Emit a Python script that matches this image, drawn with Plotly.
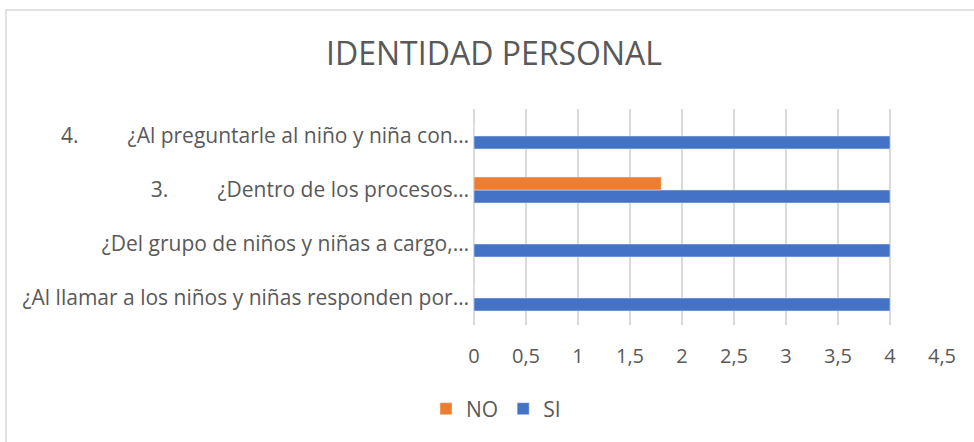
import plotly.graph_objects as go

NB = "\u00a0"
categories = [
    "¿Al llamar a los niños y niñas responden por…",
    "¿Del grupo de niños y niñas a cargo,…",
    "3." + NB * 9 + "¿Dentro de los procesos…",
    "4." + NB * 9 + "¿Al preguntarle al niño y niña con…",
]
si_values = [4, 4, 4, 4]
no_values = [0, 0, 1.8, 0]
x_ticks = [0, 0.5, 1, 1.5, 2, 2.5, 3, 3.5, 4, 4.5]
x_tick_labels = ["0", "0,5", "1", "1,5", "2", "2,5", "3", "3,5", "4", "4,5"]

W, H = 974, 442
L, R, T, B = 474, 32, 109, 117
pw, ph = W - L - R, H - T - B

def px_x(p):
    return (p - L) / pw

def px_y(p):
    return (H - B - p) / ph

fig = go.Figure()
fig.add_trace(go.Bar(y=categories, x=si_values, orientation="h", name="SI",
                     marker=dict(color="#4472C4")))
fig.add_trace(go.Bar(y=categories, x=no_values, orientation="h", name="NO",
                     marker=dict(color="#ED7D31")))

font_family = "Open Sans, Liberation Sans, sans-serif"
fig.update_layout(
    width=W, height=H,
    margin=dict(l=L, r=R, t=T, b=B),
    paper_bgcolor="white", plot_bgcolor="white",
    barmode="group", bargap=0.52, bargroupgap=0,
    title=dict(text="IDENTIDAD PERSONAL", x=(494) / W, xref="container", xanchor="center",
               y=1 - 54 / H, yref="container", yanchor="middle",
               font=dict(family=font_family, size=32, color="#595959")),
    font=dict(family=font_family, size=20, color="#595959"),
    showlegend=True,
    legend=dict(orientation="h", traceorder="reversed", x=496 / W, xref="container",
                xanchor="center", y=(H - 409) / H, yref="container", yanchor="middle",
                font=dict(size=21, color="#595959"), itemwidth=30, tracegroupgap=0),
    xaxis=dict(range=[0, 4.5], tickvals=x_ticks, ticktext=x_tick_labels,
               showgrid=True, gridcolor="#D9D9D9", gridwidth=1.5,
               zeroline=True, zerolinecolor="#D9D9D9", zerolinewidth=1.5,
               showline=False, ticks="", ticklen=0, ticklabelstandoff=17,
               tickfont=dict(size=20, color="#595959"), fixedrange=True),
    yaxis=dict(showgrid=False, zeroline=False, showline=False, ticks="",
               ticklabelstandoff=4,
               tickfont=dict(size=21, color="#595959"), fixedrange=True),
    shapes=[dict(type="rect", xref="paper", yref="paper",
                 x0=px_x(6), x1=px_x(990), y0=px_y(460), y1=px_y(10),
                 line=dict(color="#D9D9D9", width=1.5), layer="below")],
)

fig.write_html("out.html", config={"displayModeBar": False},
               post_script="document.body.style.margin='0';document.body.style.padding='0';")
